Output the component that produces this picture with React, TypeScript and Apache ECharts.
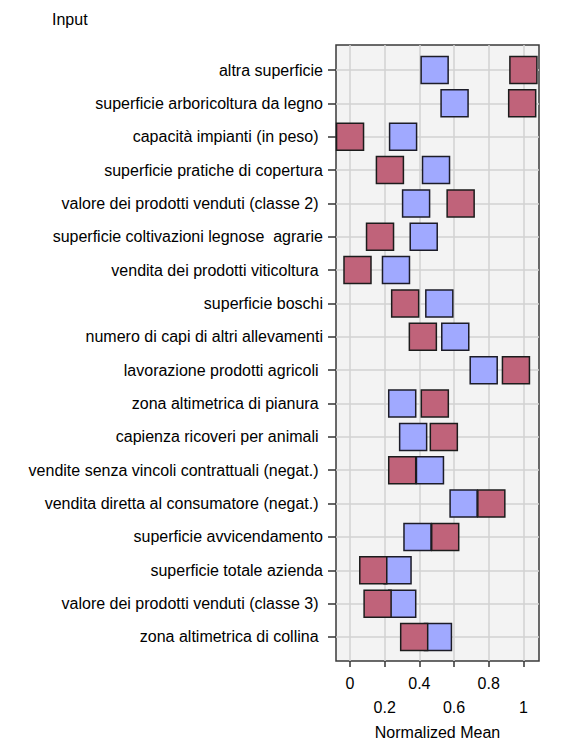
import React, { useEffect, useRef } from "react";
import * as echarts from "echarts";

const categories: string[] = [
  "altra superficie",
  "superficie arboricoltura da legno",
  "capacità impianti (in peso) ",
  "superficie pratiche di copertura",
  "valore dei prodotti venduti (classe 2) ",
  "superficie coltivazioni legnose  agrarie",
  "vendita dei prodotti viticoltura ",
  "superficie boschi",
  "numero di capi di altri allevamenti",
  "lavorazione prodotti agricoli ",
  "zona altimetrica di pianura ",
  "capienza ricoveri per animali ",
  "vendite senza vincoli contrattuali (negat.) ",
  "vendita diretta al consumatore (negat.) ",
  "superficie avvicendamento",
  "superficie totale azienda",
  "valore dei prodotti venduti (classe 3) ",
  "zona altimetrica di collina ",
];

const blueValues: number[] = [
  0.488, 0.603, 0.306, 0.496, 0.381, 0.425, 0.265, 0.515, 0.607, 0.771, 0.301,
  0.364, 0.461, 0.655, 0.389, 0.274, 0.301, 0.507,
];

const redValues: number[] = [
  1.0, 0.993, 0.0, 0.23, 0.638, 0.173, 0.043, 0.318, 0.42, 0.957, 0.489, 0.541,
  0.301, 0.815, 0.549, 0.134, 0.159, 0.37,
];

const xTicks: number[] = [0, 0.2, 0.4, 0.6, 0.8, 1];
const xSecondRow: number[] = [0.2, 0.6, 1];

const FONT = "'Liberation Sans', Arial, sans-serif";

export default function App() {
  const ref = useRef<HTMLDivElement>(null);

  useEffect(() => {
    if (!ref.current) return;
    const chart = echarts.init(ref.current, null, { renderer: "svg" });
    const rowIdx = categories.map((_, i) => i);
    const gridLineStyle = { color: "#d2d2d2", width: 1.5, type: "solid" as const };
    chart.setOption({
      animation: false,
      backgroundColor: "#ffffff",
      title: {
        text: "Input",
        left: 47,
        top: 6,
        textStyle: {
          fontFamily: FONT,
          fontSize: 16,
          fontWeight: "normal",
          color: "#000",
        },
      },
      grid: {
        left: 336,
        right: 23,
        top: 45,
        bottom: 81,
        outerBoundsMode: "none",
        containLabel: false,
        show: true,
        backgroundColor: "#f3f3f3",
        borderColor: "#3a3a3a",
        borderWidth: 1.5,
      },
      xAxis: {
        type: "value",
        min: -0.081,
        max: 1.09,
        name: "Normalized Mean",
        nameLocation: "middle",
        nameGap: 63,
        nameTextStyle: { fontFamily: FONT, fontSize: 16, color: "#000" },
        axisLine: { show: false, onZero: false },
        axisTick: {
          show: true,
          customValues: xTicks,
          length: 6,
          lineStyle: { color: "#333", width: 1.5 },
        },
        axisLabel: {
          customValues: xTicks,
          margin: 10,
          fontFamily: FONT,
          fontSize: 16,
          lineHeight: 24,
          color: "#000",
          formatter: (v: number) => {
            const s = String(Math.round(v * 10) / 10);
            return xSecondRow.some((t) => Math.abs(t - v) < 1e-6) ? "\n" + s : s;
          },
        },
        splitLine: { show: false },
      },
      yAxis: {
        type: "value",
        inverse: true,
        min: -0.75,
        max: 17.72,
        axisLine: { show: false, onZero: false },
        axisTick: {
          show: true,
          customValues: rowIdx,
          length: 8,
          lineStyle: { color: "#333", width: 1.5 },
        },
        axisLabel: {
          customValues: rowIdx,
          margin: 13,
          fontFamily: FONT,
          fontSize: 16,
          color: "#000",
          formatter: (v: number) => categories[Math.round(v)] ?? "",
        },
        splitLine: { show: false },
      },
      series: [
        {
          type: "scatter",
          z: 1,
          silent: true,
          data: [],
          markLine: {
            silent: true,
            z: 1,
            symbol: "none",
            label: { show: false },
            lineStyle: gridLineStyle,
            emphasis: { disabled: true },
            data: [
              ...xTicks.map((v) => ({ xAxis: v, lineStyle: gridLineStyle })),
              ...rowIdx.map((i) => ({ yAxis: i, lineStyle: gridLineStyle })),
            ],
          },
        },
        {
          type: "scatter",
          z: 3,
          symbol: "rect",
          symbolSize: 27,
          clip: false,
          itemStyle: {
            color: "#a0a9ff",
            borderColor: "#1c1c28",
            borderWidth: 1.5,
            opacity: 1,
          },
          data: blueValues.map((v, i) => [v, i]),
        },
        {
          type: "scatter",
          z: 4,
          symbol: "rect",
          symbolSize: 27,
          clip: false,
          itemStyle: {
            color: "#c0637a",
            borderColor: "#1c1c1c",
            borderWidth: 1.5,
            opacity: 1,
          },
          data: redValues.map((v, i) => [v, i]),
        },
      ],
    });
    return () => chart.dispose();
  }, []);

  return (
    <div
      ref={ref}
      style={{ position: "fixed", left: 0, top: 0, width: 562, height: 742 }}
    />
  );
}
